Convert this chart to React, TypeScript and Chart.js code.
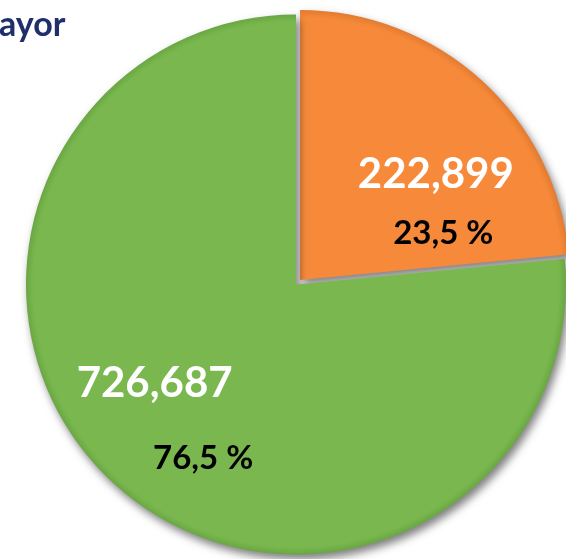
import React, { useEffect, useRef } from "react";
import { Chart, registerables } from "chart.js";

Chart.register(...registerables);

const categories = ["Grupo A", "Grupo B"];
const values = [222899, 726687];
const valueLabels = ["222,899", "726,687"];
const percentLabels = ["23,5 %", "76,5 %"];
const titleText = "ayor";

const baseColors = ["#F68A3A", "#7AB84F"];
const rimColors = ["#D46E28", "#5E9A3A"];
// label placement: [angleDeg, radiusFraction] in canvas polar coords
const valuePlace: [number, number][] = [[-38.3, 0.66], [144.9, 0.64]];
const pctPlace: [number, number][] = [[-19.3, 0.578], [118.1, 0.73]];

const RADIUS = 270;

export default function App() {
  const ref = useRef<HTMLCanvasElement | null>(null);
  useEffect(() => {
    if (!ref.current) return;
    const shadowPlugin = {
      id: "shadowPlugin",
      beforeDatasetsDraw(chart: any) {
        const ctx = chart.ctx;
        ctx.save();
        ctx.shadowColor = "rgba(0,0,0,0.5)";
        ctx.shadowBlur = 8;
        ctx.shadowOffsetX = 3;
        ctx.shadowOffsetY = 5;
      },
      afterDatasetsDraw(chart: any) {
        chart.ctx.restore();
      },
    };
    const labelPlugin = {
      id: "labelPlugin",
      afterDraw(chart: any) {
        const ctx = chart.ctx;
        const meta = chart.getDatasetMeta(0);
        ctx.save();
        ctx.textAlign = "center";
        ctx.textBaseline = "middle";
        meta.data.forEach((arc: any, i: number) => {
          const r = arc.outerRadius;
          const [va, vf] = valuePlace[i];
          const [pa, pf] = pctPlace[i];
          const vx = arc.x + Math.cos((va * Math.PI) / 180) * r * vf;
          const vy = arc.y + Math.sin((va * Math.PI) / 180) * r * vf;
          const px = arc.x + Math.cos((pa * Math.PI) / 180) * r * pf;
          const py = arc.y + Math.sin((pa * Math.PI) / 180) * r * pf;
          ctx.font = "bold 42px Lato";
          ctx.fillStyle = "#FFFFFF";
          ctx.fillText(valueLabels[i], vx, vy);
          ctx.font = "bold 33px Lato";
          ctx.fillStyle = "#000000";
          ctx.fillText(percentLabels[i], px, py);
        });
        ctx.font = "bold 34px Lato";
        ctx.fillStyle = "#1F2F6B";
        ctx.textAlign = "left";
        ctx.textBaseline = "alphabetic";
        ctx.fillText(titleText, -1, 36);
        ctx.restore();
      },
    };
    const bg = (c: any) => {
      const chart = c.chart;
      const area = chart.chartArea;
      const i = c.dataIndex;
      if (!area) return baseColors[i];
      const cx = (area.left + area.right) / 2;
      const cy = (area.top + area.bottom) / 2;
      const g = chart.ctx.createRadialGradient(cx, cy, 0, cx, cy, RADIUS + 6);
      g.addColorStop(0, baseColors[i]);
      g.addColorStop(0.95, baseColors[i]);
      g.addColorStop(1, rimColors[i]);
      return g;
    };
    const chart = new Chart(ref.current, {
      type: "pie",
      data: {
        labels: categories,
        datasets: [
          {
            data: values,
            backgroundColor: bg as any,
            borderWidth: 0,
            offset: [24, 0],
          },
        ],
      },
      plugins: [shadowPlugin, labelPlugin],
      options: {
        responsive: false,
        animation: false,
        radius: RADIUS,
        layout: { padding: { left: 26, right: 0, top: 10, bottom: 0 } },
        plugins: {
          legend: { display: false },
          tooltip: { enabled: false },
          title: { display: false },
        },
      },
    } as any);
    return () => chart.destroy();
  }, []);
  return (
    <div style={{ position: "fixed", left: 0, top: 0, width: 566, height: 559, background: "#fff" }}>
      <canvas ref={ref} width={566} height={559} style={{ display: "block" }} />
    </div>
  );
}
